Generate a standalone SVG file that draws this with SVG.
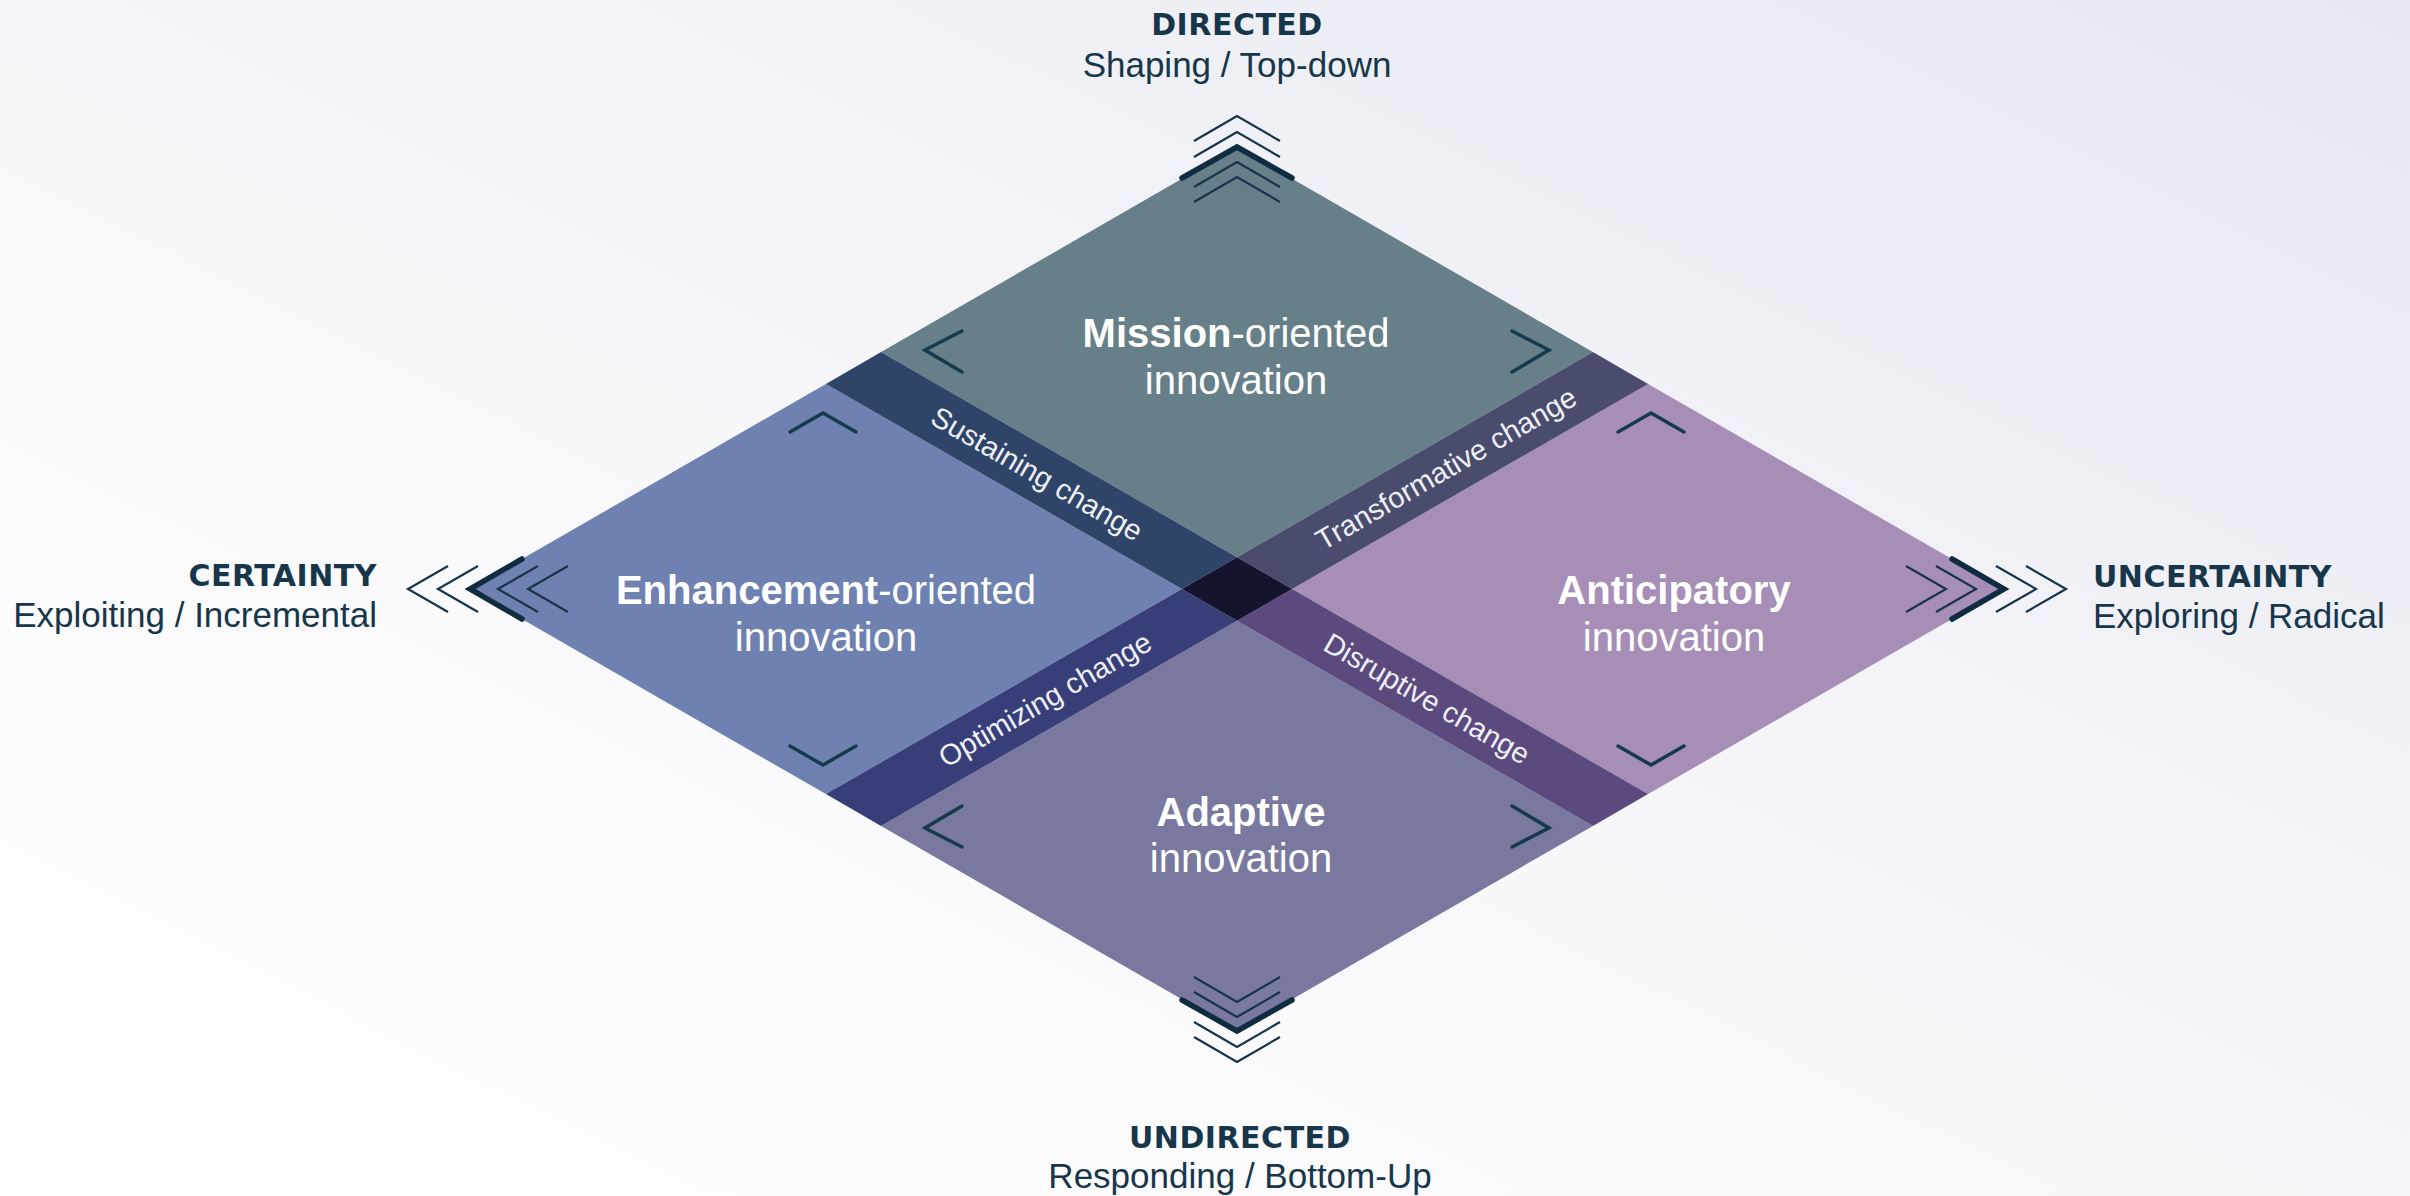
<svg xmlns="http://www.w3.org/2000/svg" width="2410" height="1196" viewBox="0 0 2410 1196">
  <defs>
    <linearGradient id="bg" x1="0" y1="1" x2="1" y2="0">
      <stop offset="0" stop-color="#ffffff"/>
      <stop offset="0.45" stop-color="#f8f8fb"/>
      <stop offset="1" stop-color="#e6e7f1"/>
    </linearGradient>
    <style>
      .head { font-family: "DejaVu Sans", "Liberation Sans", sans-serif; font-weight: bold; font-size: 30px; fill: #17364a; letter-spacing: 0.5px; }
      .sub { font-family: "Liberation Sans", Arial, sans-serif; font-size: 35px; fill: #17364a; }
      .q { font-family: "Liberation Sans", Arial, sans-serif; font-size: 40px; fill: #ffffff; text-anchor: middle; }
      .q .b { font-weight: bold; }
      .band { font-family: "Liberation Sans", Arial, sans-serif; font-size: 29px; fill: #eef0f6; text-anchor: middle; dominant-baseline: central; }
      .thin { fill: none; stroke: #17344a; stroke-width: 2.2; }
      .thick { fill: none; stroke: #102c40; stroke-width: 5.5; stroke-linecap: round; stroke-linejoin: miter; }
      .mini { fill: none; stroke: #163a4c; stroke-width: 3.5; stroke-linecap: round; stroke-linejoin: miter; }
    </style>
  </defs>
  <rect width="2410" height="1196" fill="url(#bg)"/>

  <g id="quadrants">
    <g id="mission">
      <polygon points="881.1,352.1 1237,147 1592.9,352.1 1237,557.2" fill="#677f89"/>
      <text class="q" x="1236" y="347"><tspan class="b">Mission</tspan>-oriented</text>
      <text class="q" x="1236" y="394">innovation</text>
    </g>
    <g id="enhancement">
      <polygon points="470,589 825.9,383.9 1181.8,589 825.9,794.1" fill="#6e81b1"/>
      <text class="q" x="826" y="604"><tspan class="b">Enhancement</tspan>-oriented</text>
      <text class="q" x="826" y="651">innovation</text>
    </g>
    <g id="anticipatory">
      <polygon points="1292.2,589 1648.1,383.9 2004,589 1648.1,794.1" fill="#a78eb7"/>
      <text class="q" x="1674" y="604"><tspan class="b">Anticipatory</tspan></text>
      <text class="q" x="1674" y="651">innovation</text>
    </g>
    <g id="adaptive">
      <polygon points="881.1,825.9 1237,620.8 1592.9,825.9 1237,1031" fill="#79789f"/>
      <text class="q" x="1241" y="826"><tspan class="b">Adaptive</tspan></text>
      <text class="q" x="1241" y="872">innovation</text>
    </g>
  </g>

  <g id="bands">
    <g id="sustaining">
      <polygon points="825.9,383.9 881.1,352.1 1237,557.2 1181.8,589" fill="#2e4468"/>
      <text class="band" transform="translate(1037,473.7) rotate(30)">Sustaining change</text>
    </g>
    <g id="transformative">
      <polygon points="1237,557.2 1592.9,352.1 1648.1,383.9 1292.2,589" fill="#4a4c6d"/>
      <text class="band" transform="translate(1446,468.5) rotate(-30)">Transformative change</text>
    </g>
    <g id="optimizing">
      <polygon points="825.9,794.1 1181.8,589 1237,620.8 881.1,825.9" fill="#383f78"/>
      <text class="band" transform="translate(1045,699.6) rotate(-30)">Optimizing change</text>
    </g>
    <g id="disruptive">
      <polygon points="1237,620.8 1292.2,589 1648.1,794.1 1592.9,825.9" fill="#5b4a7e"/>
      <text class="band" transform="translate(1427,698.5) rotate(30)">Disruptive change</text>
    </g>
    <polygon id="center" points="1181.8,589 1237,557.2 1292.2,589 1237,620.8" fill="#14142f"/>
  </g>

  <g id="chevrons">
    <!-- top -->
    <polyline class="thin" points="1194,141 1237,116 1280,141"/>
    <polyline class="thin" points="1194,157 1237,132 1280,157"/>
    <polyline class="thick" points="1182,178 1237,147 1292,178"/>
    <polyline class="thin" points="1194,187 1237,162 1280,187"/>
    <polyline class="thin" points="1194,202 1237,177 1280,202"/>
    <!-- bottom -->
    <polyline class="thin" points="1194,977 1237,1002 1280,977"/>
    <polyline class="thin" points="1194,992 1237,1017 1280,992"/>
    <polyline class="thick" points="1182,1000 1237,1031 1292,1000"/>
    <polyline class="thin" points="1194,1022 1237,1047 1280,1022"/>
    <polyline class="thin" points="1194,1037 1237,1062 1280,1037"/>
    <!-- left -->
    <polyline class="thin" points="448,566 408,589 448,612"/>
    <polyline class="thin" points="478,566 438,589 478,612"/>
    <polyline class="thick" points="522,559 470,589 522,619"/>
    <polyline class="thin" points="538,566 498,589 538,612"/>
    <polyline class="thin" points="568,566 528,589 568,612"/>
    <!-- right -->
    <polyline class="thin" points="1906,566 1946,589 1906,612"/>
    <polyline class="thin" points="1936,566 1976,589 1936,612"/>
    <polyline class="thick" points="1952,559 2004,589 1952,619"/>
    <polyline class="thin" points="1996,566 2036,589 1996,612"/>
    <polyline class="thin" points="2026,566 2066,589 2026,612"/>
    <!-- inner brackets -->
    <polyline class="mini" points="962,331 925,350 962,372"/>
    <polyline class="mini" points="1512,331 1549,350 1512,372"/>
    <polyline class="mini" points="962,806 925,828 962,847"/>
    <polyline class="mini" points="1512,806 1549,828 1512,847"/>
    <polyline class="mini" points="790,432 823,413 856,432"/>
    <polyline class="mini" points="790,746 823,765 856,746"/>
    <polyline class="mini" points="1618,432 1651,413 1684,432"/>
    <polyline class="mini" points="1618,746 1651,765 1684,746"/>
  </g>

  <g id="axis-labels">
    <g id="directed">
      <text class="head" x="1237" y="35" text-anchor="middle">DIRECTED</text>
      <text class="sub" x="1237" y="77" text-anchor="middle">Shaping / Top-down</text>
    </g>
    <g id="undirected">
      <text class="head" x="1240" y="1148" text-anchor="middle">UNDIRECTED</text>
      <text class="sub" x="1240" y="1188" text-anchor="middle">Responding / Bottom-Up</text>
    </g>
    <g id="certainty">
      <text class="head" x="377" y="586" text-anchor="end">CERTAINTY</text>
      <text class="sub" x="377" y="627" text-anchor="end">Exploiting / Incremental</text>
    </g>
    <g id="uncertainty">
      <text class="head" x="2093" y="587">UNCERTAINTY</text>
      <text class="sub" x="2093" y="628">Exploring / Radical</text>
    </g>
  </g>
</svg>
